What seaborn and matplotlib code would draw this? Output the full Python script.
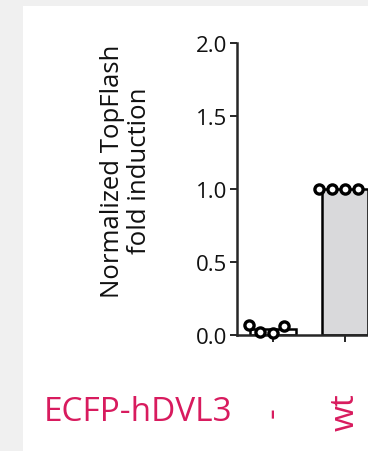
import matplotlib
matplotlib.use("Agg")
import matplotlib.pyplot as plt
from matplotlib.patches import Rectangle
import seaborn as sns
import pandas as pd

# Replicate measurements per ECFP-hDVL3 construct
conditions = ["-", "wt"]
control_values = [0.06, 0.015, 0.02, 0.07]
wt_values = [1.0, 1.0, 1.0, 1.0]
bar_colors = ["#ffffff", "#d9d9db"]
yticks = [0.0, 0.5, 1.0, 1.5, 2.0]
ylabel = "Normalized TopFlash\nfold induction"
construct_label = "ECFP-hDVL3"

df = pd.DataFrame({
    "condition": [conditions[0]] * len(control_values) + [conditions[1]] * len(wt_values),
    "value": control_values + wt_values,
})

sns.set_style("ticks")
plt.rcParams["font.family"] = ["Open Sans", "DejaVu Sans"]

accent = "#d81b5e"
W, H = 368, 452
fig = plt.figure(figsize=(W / 100, H / 100), dpi=100)
fig.patch.set_facecolor("#f0f0f0")
fig.patches.append(Rectangle((23 / W, 0), 1, 1 - 7 / H, transform=fig.transFigure,
                             facecolor="white", edgecolor="none", zorder=-5))

ax = fig.add_axes([237 / W, (H - 336) / H, 144 / W, (336 - 44) / H])
ax.set_facecolor("none")
ax.set_zorder(2)

sns.barplot(data=df, x="condition", y="value", hue="condition", palette=bar_colors,
            order=conditions, errorbar=None, width=0.64, edgecolor="black",
            linewidth=1.8, legend=False, ax=ax, zorder=2)
sns.swarmplot(data=df, x="condition", y="value", order=conditions, color="white",
              edgecolor="black", linewidth=2.4, size=6.6, ax=ax, zorder=3, clip_on=False)

ax.set_xlim(-0.5, 1.5)
ax.set_ylim(0, 2.0)
ax.set_yticks(yticks)
ax.set_yticklabels([f"{v:.1f}" for v in yticks], fontsize=16, color="#111111")
ax.set_xticks(range(len(conditions)))
ax.set_xticklabels(conditions, rotation=90, va="center", fontsize=24, color=accent)
ax.tick_params(axis="y", length=5, width=1.4, pad=2)
ax.tick_params(axis="x", length=5, width=1.4, pad=50)
ax.set_xlabel("")
ax.set_ylabel(ylabel, fontsize=18.5, linespacing=1.1, color="#111111")
ax.yaxis.set_label_coords(-0.59, 0.565)
for side in ["left", "bottom"]:
    ax.spines[side].set_linewidth(1.8)
sns.despine(ax=ax)

fig.text(232 / W, (H - 413) / H, construct_label, ha="right", va="center",
         fontsize=24, color=accent)

fig.savefig("out.png", dpi=100)
